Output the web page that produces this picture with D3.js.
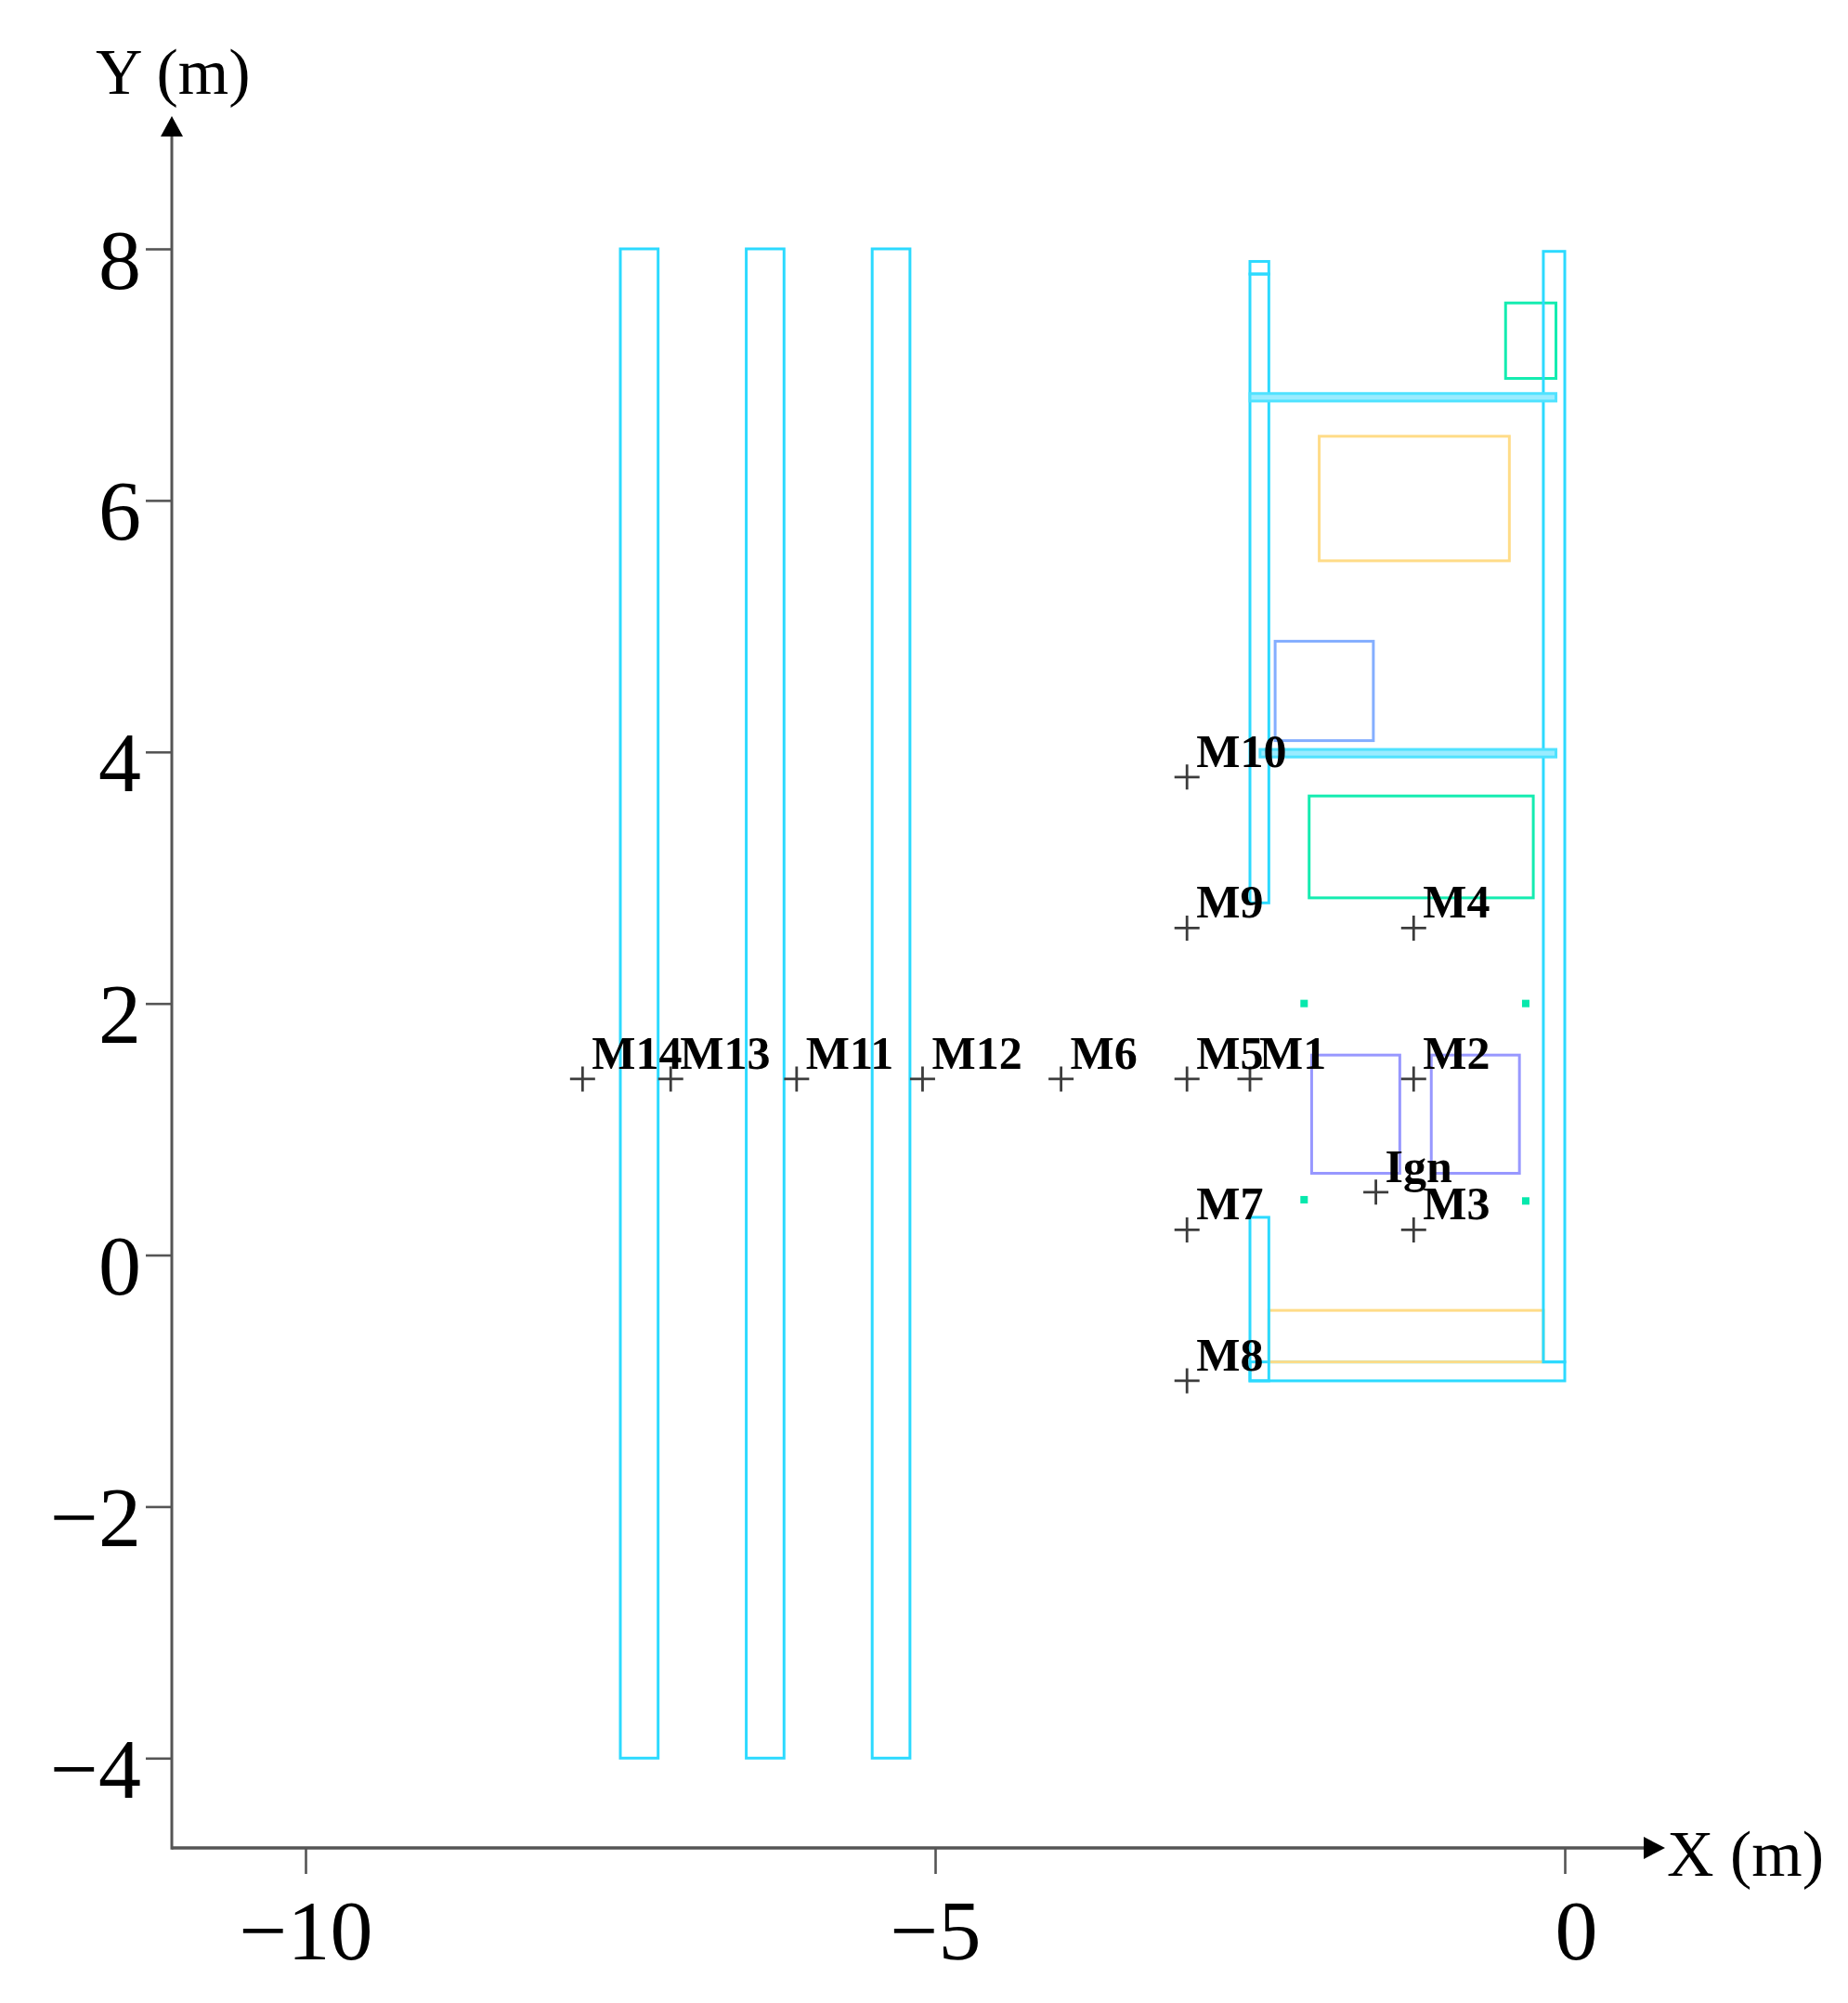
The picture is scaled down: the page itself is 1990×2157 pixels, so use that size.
<!DOCTYPE html>
<html>
<head>
<meta charset="utf-8">
<script src="https://cdn.jsdelivr.net/npm/d3@7"></script>
<style>
    body { margin: 0; background: #fff; }
    svg { display: block; filter: blur(0.6px); }
    text { font-family: "Liberation Serif", serif; fill: #000; }
</style>
</head>
<body>
<div id="chart"></div>
<script>
// axis ticks
const xTicks = [-10, -5, 0];
const yTicks = [-4, -2, 0, 2, 4, 6, 8];

// obstacles in metres: [xMin, xMax, yMin, yMax]
const floorRects = [
    [-2.5, 0, -1, -0.85]
];
const wallRects = [
    [-7.5, -7.2, -4, 8],
    [-6.5, -6.2, -4, 8],
    [-5.5, -5.2, -4, 8],
    [-2.5, -2.35, 2.8, 7.8],
    [-2.5, -2.35, 7.8, 7.9],
    [-2.5, -2.35, -1, 0.3],
    [-0.17, 0, -0.85, 7.98]
];
const beamRects = [
    [-2.5, -0.07, 6.79, 6.85],
    [-2.42, -0.07, 3.96, 4.02]
];
const tealRects = [
    [-0.47, -0.07, 6.97, 7.57],
    [-2.03, -0.25, 2.84, 3.65]
];
const yellowRects = [
    [-1.95, -0.44, 5.52, 6.51],
    [-2.35, -0.17, -0.85, -0.44]
];
const blueRects = [
    [-2.3, -1.52, 4.09, 4.88]
];
const purpleRects = [
    [-2.01, -1.31, 0.65, 1.59],
    [-1.06, -0.36, 0.65, 1.59]
];

// four small posts
const postX = [-2.07, -0.31, -2.07, -0.31];
const postY = [2, 2, 0.44, 0.43];

// measuring points
const pointNames = ['M1', 'M2', 'M3', 'M4', 'M5', 'M6', 'M7', 'M8', 'M9', 'M10', 'M11', 'M12', 'M13', 'M14', 'Ign'];
const pointX = [-2.5, -1.2, -1.2, -1.2, -3, -4, -3, -3, -3, -3, -6.1, -5.1, -7.1, -7.8, -1.5];
const pointY = [1.4, 1.4, 0.2, 2.6, 1.4, 1.4, 0.2, -1, 2.6, 3.8, 1.4, 1.4, 1.4, 1.4, 0.5];

const width = 1990;
const height = 2157;
const originX = 185;
const originY = 1990;

const xScale = d3.scaleLinear().domain([-10, 0]).range([329, 1685]);
const yScale = d3.scaleLinear().domain([-4, 8]).range([1893.3, 268]);

const svg = d3.select('#chart').append('svg')
    .attr('width', width)
    .attr('height', height);

svg.append('rect')
    .attr('width', width)
    .attr('height', height)
    .attr('fill', '#fff');

//************* OBSTACLES *************//

const drawRects = (rects, color, fill = 'none') => {
    svg.append('g').selectAll('rect')
        .data(rects)
        .join('rect')
        .attr('x', d => xScale(d[0]))
        .attr('y', d => yScale(d[3]))
        .attr('width', d => xScale(d[1]) - xScale(d[0]))
        .attr('height', d => yScale(d[2]) - yScale(d[3]))
        .attr('fill', fill)
        .attr('stroke', color)
        .attr('stroke-width', 3);
};

// yellow goes over the floor line but under the wall sides
drawRects(floorRects, '#2cdaff');
drawRects(yellowRects, '#ffdc88');
drawRects(blueRects, '#84aeff');
drawRects(purpleRects, '#9898ff');
drawRects(tealRects, '#14ecb0');
drawRects(wallRects, '#2cdaff');
drawRects(beamRects, '#50e2ff', '#9aecff');

svg.append('g').selectAll('rect')
    .data(postX)
    .join('rect')
    .attr('x', d => xScale(d) - 4)
    .attr('y', (d, i) => yScale(postY[i]) - 4)
    .attr('width', 8)
    .attr('height', 8)
    .attr('fill', '#06e8ac');

//************** AXES ******************//

const xAxis = svg.append('g')
    .attr('transform', `translate(0, ${originY})`)
    .call(d3.axisBottom(xScale).tickValues(xTicks).tickFormat(d3.format('d')).tickSize(28));

const yAxis = svg.append('g')
    .attr('transform', `translate(${originX}, 0)`)
    .call(d3.axisLeft(yScale).tickValues(yTicks).tickFormat(d3.format('d')).tickSize(28));

xAxis.select('.domain').remove();
yAxis.select('.domain').remove();

xAxis.selectAll('line').attr('stroke', '#555').attr('stroke-width', 2.6);
yAxis.selectAll('line').attr('stroke', '#555').attr('stroke-width', 2.6);

// the 0 label sits a little right of its tick in the picture
xAxis.selectAll('text')
    .attr('font-size', 92)
    .attr('font-family', '"Liberation Serif", serif')
    .attr('y', 120)
    .attr('dy', 0)
    .attr('x', d => d === 0 ? 12 : 0);

yAxis.selectAll('text')
    .attr('font-size', 92)
    .attr('font-family', '"Liberation Serif", serif')
    .attr('x', -33)
    .attr('dy', 42);

// axis lines and arrow heads
svg.append('line')
    .attr('x1', originX).attr('x2', 1772)
    .attr('y1', originY).attr('y2', originY)
    .attr('stroke', '#555').attr('stroke-width', 3.6);

svg.append('line')
    .attr('x1', originX).attr('x2', originX)
    .attr('y1', originY + 1.8).attr('y2', 145)
    .attr('stroke', '#555').attr('stroke-width', 3);

svg.append('path')
    .attr('d', 'M1770,1978L1793,1990L1770,2002Z')
    .attr('fill', '#000');

svg.append('path')
    .attr('d', 'M173,147L185,125L197,147Z')
    .attr('fill', '#000');

svg.append('text')
    .attr('x', 103).attr('y', 101)
    .attr('font-size', 70)
    .text('Y (m)');

svg.append('text')
    .attr('x', 1795).attr('y', 2020)
    .attr('font-size', 70)
    .text('X (m)');

//************* MEASURING POINTS *************//

const points = svg.append('g').selectAll('g')
    .data(pointNames)
    .join('g')
    .attr('transform', (d, i) => `translate(${xScale(pointX[i])}, ${yScale(pointY[i])})`);

points.append('path')
    .attr('d', 'M-13.5,0H13.5M0,-13.5V13.5')
    .attr('fill', 'none')
    .attr('stroke', '#3c3c3c')
    .attr('stroke-width', 2.8);

points.append('text')
    .attr('x', 10)
    .attr('y', -11)
    .attr('font-size', 50)
    .attr('font-weight', 'bold')
    .text(d => d);
</script>
</body>
</html>
